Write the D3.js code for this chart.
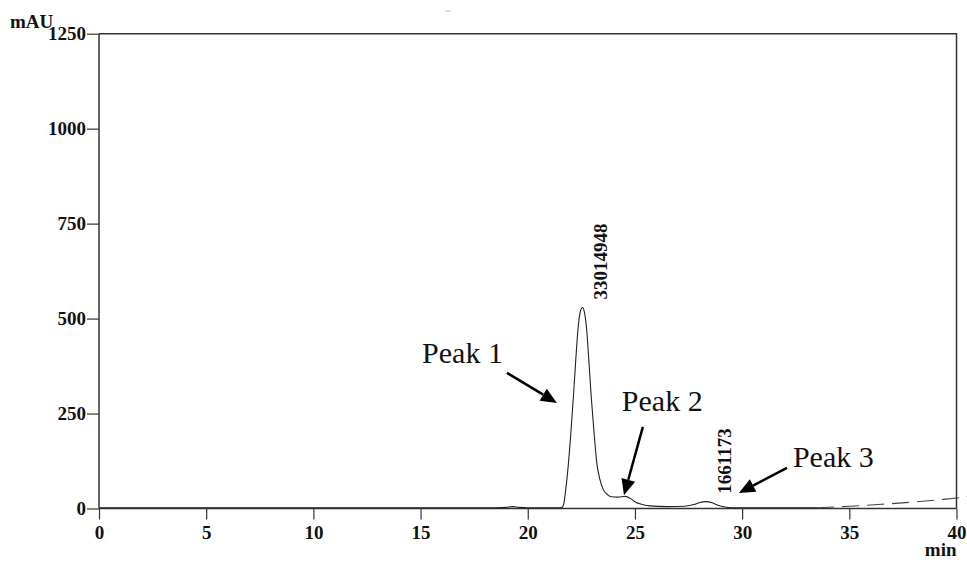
<!DOCTYPE html>
<html>
<head>
<meta charset="utf-8">
<script src="https://cdn.jsdelivr.net/npm/d3@7"></script>
<style>
  body { margin: 0; background: #fff; }
  svg text { font-family: "Liberation Serif", "Times New Roman", serif; fill: #111; }
  .tick-label { font-weight: bold; font-size: 19px; }
</style>
</head>
<body>
<div id="chart"></div>
<script>
// chromatogram trace (retention time in min, signal in mAU)
var traceTimes = [0, 5, 10, 15, 18.5, 19.0, 19.3, 19.6, 20.0, 21.0, 21.5, 21.6, 21.68, 21.75, 21.9, 22.0,
    22.13, 22.25, 22.34, 22.45, 22.55, 22.65, 22.75, 22.85, 22.96, 23.1, 23.22, 23.35, 23.53, 23.7,
    23.9, 24.2, 24.55, 24.8, 25.0, 25.3, 25.7, 26.5, 27.3, 27.8, 28.0, 28.3, 28.6, 28.9, 29.2, 29.5, 30, 32, 33.5];
var traceSignal = [2, 2, 2, 2, 2, 3, 5, 3, 2, 2, 2, 3, 12, 40, 120, 190,
    295, 400, 470, 518, 529, 515, 470, 390, 295, 195, 120, 80, 49, 37,
    31, 30, 32, 26, 18, 11, 7, 5, 6, 11, 15, 18, 15, 8, 4, 2, 2, 2, 2];
// baseline drift after the run, drawn dashed
var driftTimes = [33.5, 35, 36.5, 38, 39.4, 40.5];
var driftSignal = [2, 6, 11, 17, 24, 31];

// integrated peak areas
var peakTimes = [22.55, 28.3];
var peakHeights = [529, 18];
var peakAreas = ['33014948', '1661173'];

// axis ticks
var xTicks = [0, 5, 10, 15, 20, 25, 30, 35, 40];
var yTicks = [0, 250, 500, 750, 1000, 1250];

// hand annotations (in data units: min, mAU)
var annotations = [
    { label: 'Peak 1', t: 15.07, v: 383, from: [19.03, 357], to: [21.36, 278] },
    { label: 'Peak 2', t: 24.39, v: 257, from: [25.37, 215], to: [24.49, 35] },
    { label: 'Peak 3', t: 32.37, v: 109, from: [32.09, 107], to: [29.85, 41] }
];

var width = 967, height = 562;
var svg = d3.select('#chart').append('svg')
    .attr('width', width)
    .attr('height', height);

var xScale = d3.scaleLinear().domain([0, 40]).range([99, 956.5]);
var yScale = d3.scaleLinear().domain([0, 1250]).range([508.5, 33.7]);

// frame (top + right)
svg.append('path')
    .attr('d', 'M' + xScale(0) + ',' + yScale(1250) + 'H' + xScale(40) + 'V' + yScale(0))
    .attr('fill', 'none')
    .attr('stroke', '#333')
    .attr('stroke-width', 1.5);

// stray mark at the top of the scan
svg.append('line')
    .attr('x1', 445).attr('x2', 451).attr('y1', 11).attr('y2', 11)
    .attr('stroke', '#bbb');

// x axis: minor ticks every min, major every 5
var xAxisG = svg.append('g').attr('transform', 'translate(0,' + yScale(0) + ')');
xAxisG.call(d3.axisBottom(xScale).tickValues(d3.range(0, 41, 1)).tickSize(6).tickFormat(''));
xAxisG.call(d3.axisBottom(xScale).tickValues(xTicks).tickSize(11).tickFormat(d3.format('d')));
xAxisG.attr('font-family', null).attr('font-size', null);
xAxisG.selectAll('.domain').remove();
xAxisG.append('line').attr('x1', xScale(0)).attr('x2', xScale(40))
    .attr('stroke', '#333').attr('stroke-width', 1.5);
xAxisG.selectAll('.tick line').attr('stroke', '#333').attr('stroke-width', 1.2);
xAxisG.selectAll('.tick text')
    .attr('class', 'tick-label')
    .attr('y', 30).attr('dy', 0);

// y axis: minor ticks every 50 mAU
var yAxisG = svg.append('g').attr('transform', 'translate(' + xScale(0) + ',0)');
yAxisG.call(d3.axisLeft(yScale).tickValues(d3.range(0, 1251, 50)).tickSize(6).tickFormat(''));
yAxisG.call(d3.axisLeft(yScale).tickValues(yTicks).tickSize(12).tickFormat(d3.format('d')));
yAxisG.attr('font-family', null).attr('font-size', null);
yAxisG.selectAll('.domain').remove();
yAxisG.append('line').attr('y1', yScale(0)).attr('y2', yScale(1250))
    .attr('stroke', '#333').attr('stroke-width', 1.5);
yAxisG.selectAll('.tick line').attr('stroke', '#333').attr('stroke-width', 1.2);
yAxisG.selectAll('.tick text')
    .attr('class', 'tick-label')
    .attr('x', -13).attr('dy', '0.33em');

// unit labels
svg.append('text').attr('class', 'tick-label')
    .attr('x', 10).attr('y', 28).text('mAU');
svg.append('text').attr('class', 'tick-label')
    .attr('x', xScale(40)).attr('y', 556)
    .attr('text-anchor', 'end').text('min');

// signal line
var line = d3.line()
    .x(d => xScale(d[0]))
    .y(d => yScale(d[1]))
    .curve(d3.curveMonotoneX);

svg.append('path')
    .datum(d3.zip(traceTimes, traceSignal))
    .attr('d', line)
    .attr('fill', 'none')
    .attr('stroke', '#222')
    .attr('stroke-width', 1.1);

svg.append('path')
    .datum(d3.zip(driftTimes, driftSignal))
    .attr('d', line)
    .attr('fill', 'none')
    .attr('stroke', '#444')
    .attr('stroke-width', 1.1)
    .attr('stroke-dasharray', '17,8');

// area labels, rotated above each apex
svg.selectAll('.area-label')
    .data(d3.range(peakTimes.length)).enter().append('text')
    .attr('class', 'tick-label')
    .attr('transform', i => 'translate(' + (xScale(peakTimes[i]) + 25) + ',' + (yScale(peakHeights[i]) - 8) + ') rotate(-90)')
    .text(i => peakAreas[i]);

// annotations with arrows
var annoG = svg.append('g');
annoG.selectAll('text')
    .data(annotations).enter().append('text')
    .attr('x', d => xScale(d.t))
    .attr('y', d => yScale(d.v))
    .attr('font-size', 30)
    .text(d => d.label);

annotations.forEach(function(d) {
    var x1 = xScale(d.from[0]), y1 = yScale(d.from[1]);
    var x2 = xScale(d.to[0]), y2 = yScale(d.to[1]);
    var ang = Math.atan2(y2 - y1, x2 - x1);
    var headLen = 16, headW = 7;
    var bx = x2 - headLen * Math.cos(ang), by = y2 - headLen * Math.sin(ang);
    annoG.append('line')
        .attr('x1', x1).attr('y1', y1).attr('x2', bx).attr('y2', by)
        .attr('stroke', '#000').attr('stroke-width', 2.5);
    var px = -Math.sin(ang) * headW, py = Math.cos(ang) * headW;
    annoG.append('polygon')
        .attr('points', [[x2, y2], [bx + px, by + py], [bx - px, by - py]].map(p => p.join(',')).join(' '))
        .attr('fill', '#000');
});
</script>
</body>
</html>
